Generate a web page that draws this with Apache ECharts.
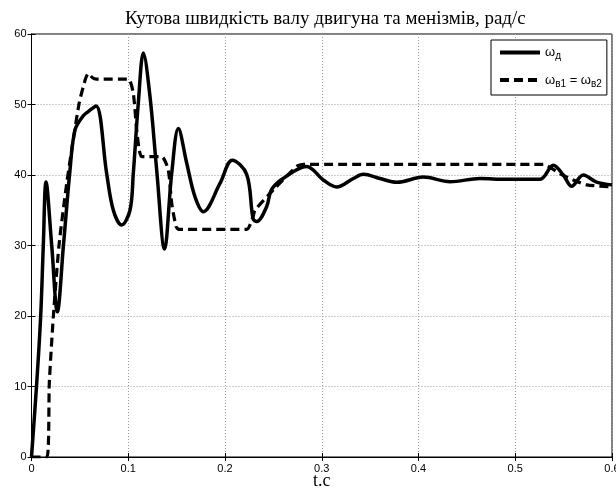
<!DOCTYPE html>
<html>
<head>
<meta charset="utf-8">
<script src="https://cdn.jsdelivr.net/npm/echarts@6/dist/echarts.min.js"></script>
<style>
  html, body { margin: 0; padding: 0; background: #fff; }
  #chart { width: 616px; height: 491px; }
</style>
</head>
<body>
<div id="chart"></div>
<script>
// час, с
var tMotor = [0, 0.0054, 0.0095, 0.0122, 0.015, 0.0209, 0.0267, 0.033, 0.0398, 0.045, 0.0535, 0.0587, 0.0667,
    0.0777, 0.0846, 0.0932, 0.1018, 0.1052, 0.1104, 0.1156, 0.1225, 0.1294, 0.1375, 0.1449, 0.1518, 0.1604,
    0.169, 0.1776, 0.1948, 0.2075, 0.2224, 0.229, 0.2328, 0.243, 0.248, 0.26, 0.2844, 0.3016, 0.3155, 0.3326,
    0.343, 0.36, 0.3775, 0.405, 0.4326, 0.4636, 0.49, 0.5256, 0.5393, 0.5497, 0.5583, 0.5703, 0.584, 0.6];
// швидкість двигуна, рад/с
var wMotor = [0, 10.5, 20, 30, 39, 30, 20.6, 30, 40.7, 46.4, 48.4, 49, 49.8,
    40.2, 35, 32.9, 35, 40.2, 50.2, 57.3, 51.1, 40.7, 29.5, 40.2, 46.6, 41.7,
    36.9, 34.8, 38.8, 42.1, 40.1, 33.8, 33.4, 35.5, 37.9, 39.5, 41.2, 39.3, 38.3, 39.5,
    40.1, 39.5, 38.96, 39.7, 39.05, 39.5, 39.4, 39.4, 41.4, 40, 38.4, 40, 39, 38.6];

var tMech = [0, 0.016, 0.0184, 0.0226, 0.0284, 0.0364, 0.049, 0.0555, 0.0587, 0.063, 0.067, 0.1, 0.1052,
    0.1087, 0.1114, 0.1139, 0.1346, 0.1414, 0.1449, 0.1494, 0.152, 0.2224, 0.229, 0.231, 0.25, 0.274, 0.281,
    0.529, 0.546, 0.56, 0.574, 0.6];
// швидкість механізмів, рад/с
var wMech = [0, 0, 10.5, 20, 30, 38.8, 50, 53.5, 54.4, 53.8, 53.6, 53.6, 51.6,
    46.4, 43.5, 42.6, 42.6, 40.7, 36, 32.7, 32.3, 32.3, 34.1, 35, 37.9, 41.2, 41.5,
    41.5, 40.2, 39.3, 38.6, 38.3];

var xTicks = [0, 0.1, 0.2, 0.3, 0.4, 0.5, 0.6];
var yTicks = [0, 10, 20, 30, 40, 50, 60];

function pairs(xs, ys) {
    var out = [];
    for (var i = 0; i < xs.length; i++) out.push([xs[i], ys[i]]);
    return out;
}

var chart = echarts.init(document.getElementById('chart'));
var sans = 'Liberation Sans';
var serif = 'Liberation Serif';
var gridLine = { show: true, lineStyle: { color: '#9a9a9a', type: [1, 2], width: 1 } };
var frameTick = { show: true, inside: true, length: 4, lineStyle: { color: '#000' } };

var option = {
    backgroundColor: '#fff',
    animation: false,
    title: {
        text: 'Кутова швидкість валу двигуна та менізмів, рад/с',
        left: 125,
        top: 5,
        padding: [5, 0, 5, 0],
        textStyle: { fontFamily: serif, fontSize: 19, fontWeight: 'normal', color: '#000' }
    },
    grid: {
        left: 31.5, right: 4, top: 34, bottom: 34,
        outerBoundsMode: 'none',
        containLabel: false,
        show: true, borderColor: '#000', borderWidth: 1
    },
    legend: {
        orient: 'vertical',
        left: 491, top: 40,
        itemWidth: 40, itemHeight: 14, itemGap: 12,
        padding: [6, 5, 6, 7],
        borderColor: '#000', borderWidth: 1, backgroundColor: '#fff',
        itemStyle: { opacity: 0 },
        lineStyle: { width: 4 },
        data: ['wd', 'wv'],
        formatter: function(name) {
            return name === 'wd' ? '{w|ω}{s|д}' : '{w|ω}{s|в1}{w| = ω}{s|в2}';
        },
        textStyle: {
            color: '#000', fontFamily: sans, fontSize: 13,
            rich: {
                w: { fontFamily: sans, fontSize: 13, color: '#000' },
                s: { fontFamily: sans, fontSize: 10, color: '#000', padding: [8, 0, 0, 0] }
            }
        }
    },
    xAxis: [{
        type: 'value', min: 0, max: 0.6, interval: 0.1,
        name: 't.c', nameLocation: 'middle', nameGap: 15,
        nameMoveOverlap: false,
        nameTextStyle: { fontFamily: serif, fontSize: 18, color: '#000' },
        axisLine: { show: true, lineStyle: { color: '#000', width: 1 } },
        axisTick: frameTick,
        axisLabel: { fontFamily: sans, fontSize: 11, color: '#000', margin: 6 },
        splitLine: gridLine
    }, {
        type: 'value', min: 0, max: 0.6, interval: 0.1, position: 'top',
        axisLine: { show: true, lineStyle: { color: '#000', width: 1 } },
        axisTick: frameTick,
        axisLabel: { show: false },
        splitLine: { show: false }
    }],
    yAxis: [{
        type: 'value', min: 0, max: 60, interval: 10,
        axisLine: { show: true, lineStyle: { color: '#000', width: 1 } },
        axisTick: frameTick,
        axisLabel: { fontFamily: sans, fontSize: 11, color: '#000', margin: 5 },
        splitLine: gridLine
    }, {
        type: 'value', min: 0, max: 60, interval: 10, position: 'right',
        axisLine: { show: true, lineStyle: { color: '#000', width: 1 } },
        axisTick: frameTick,
        axisLabel: { show: false },
        splitLine: { show: false }
    }],
    series: [{
        name: 'wd',
        type: 'line',
        data: pairs(tMotor, wMotor),
        smooth: 0.35,
        symbol: 'none',
        lineStyle: { color: '#000', width: 3.5 },
        itemStyle: { color: '#000' },
        z: 3
    }, {
        name: 'wv',
        type: 'line',
        data: pairs(tMech, wMech),
        smooth: 0.2,
        symbol: 'none',
        lineStyle: { color: '#000', width: 3.2, type: [9, 5] },
        itemStyle: { color: '#000' },
        z: 2
    }]
};
chart.setOption(option);
</script>
</body>
</html>
